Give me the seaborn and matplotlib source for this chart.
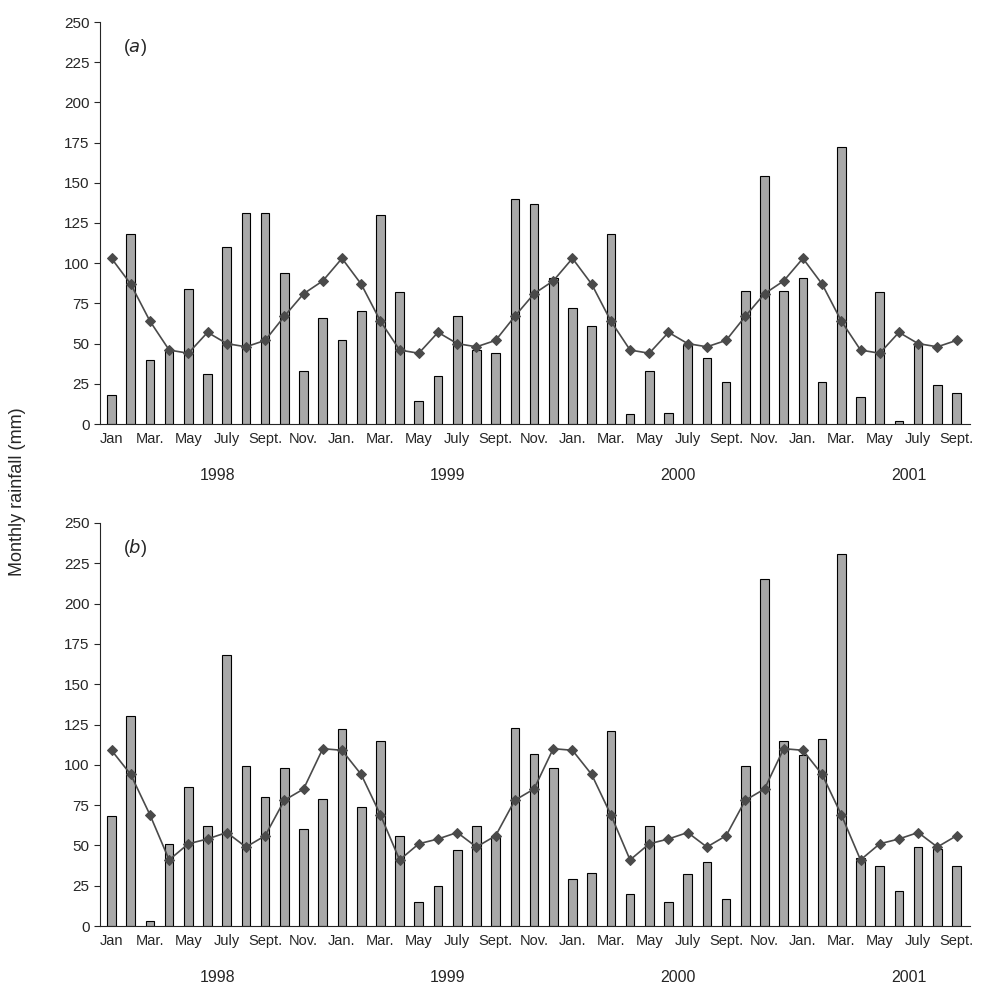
import numpy as np
import pandas as pd
import matplotlib
matplotlib.use('Agg')
import matplotlib.pyplot as plt
import seaborn as sns

# monthly rainfall Jan 1998 - Sept 2001
rain_a = [18, 118, 40, 46, 84, 31, 110, 131, 131, 94, 33, 66,
          52, 70, 130, 82, 14, 30, 67, 46, 44, 140, 137, 91,
          72, 61, 118, 6, 33, 7, 49, 41, 26, 83, 154, 83,
          91, 26, 172, 17, 82, 2, 49, 24, 19]
rain_b = [68, 130, 3, 51, 86, 62, 168, 99, 80, 98, 60, 79,
          122, 74, 115, 56, 15, 25, 47, 62, 56, 123, 107, 98,
          29, 33, 121, 20, 62, 15, 32, 40, 17, 99, 215, 115,
          106, 116, 231, 42, 37, 22, 49, 48, 37]
# long-term monthly means Jan..Dec
mean_a = [103, 87, 64, 46, 44, 57, 50, 48, 52, 67, 81, 89]
mean_b = [109, 94, 69, 41, 51, 54, 58, 49, 56, 78, 85, 110]

tick_labels = ['Jan', 'Mar.', 'May', 'July', 'Sept.', 'Nov.', 'Jan.', 'Mar.', 'May', 'July',
               'Sept.', 'Nov.', 'Jan.', 'Mar.', 'May', 'July', 'Sept.', 'Nov.', 'Jan.', 'Mar.',
               'May', 'July', 'Sept.']
years = ['1998', '1999', '2000', '2001']

sns.set_style('ticks')
plt.rcParams['font.family'] = ['Liberation Sans', 'DejaVu Sans']

fig = plt.figure(figsize=(9.88, 9.84), dpi=100)
ax_a = fig.add_axes([100 / 988, 1 - 424 / 984, 870 / 988, 402 / 984])
ax_b = fig.add_axes([100 / 988, 1 - 926 / 984, 870 / 988, 403 / 984])

n = len(rain_a)
for ax, rain, mean, tag in [(ax_a, rain_a, mean_a, 'a'), (ax_b, rain_b, mean_b, 'b')]:
    df = pd.DataFrame({'m': np.arange(n), 'rain': rain,
                       'mean': [mean[i % 12] for i in range(n)]})
    sns.barplot(data=df, x='m', y='rain', native_scale=True, width=0.45,
                color='#a8a8a8', edgecolor='black', linewidth=0.8, ax=ax, saturation=1)
    sns.lineplot(data=df, x='m', y='mean', color='#4a4a4a', marker='D', markersize=5,
                 markeredgecolor='#4a4a4a', linewidth=1.2, ax=ax)
    ax.set_xlim(-0.6, n - 0.3)
    ax.set_ylim(0, 250)
    ax.set_yticks(range(0, 251, 25))
    ax.set_xticks(range(0, n, 2))
    ax.set_xticklabels(tick_labels, fontsize=10.5)
    ax.tick_params(axis='y', labelsize=11, direction='out', length=4)
    ax.tick_params(axis='x', length=0, pad=6)
    ax.set_xlabel('')
    ax.set_ylabel('')
    sns.despine(ax=ax)
    ax.text(0.026, 0.925, r'($\it{' + tag + r'}$)', transform=ax.transAxes, fontsize=13)
    for i, yr in enumerate(years):
        ax.text(5.5 + 12 * i, -0.11, yr, transform=ax.get_xaxis_transform(),
                ha='center', va='top', fontsize=11.5)

fig.text(0.018, 0.5, 'Monthly rainfall (mm)', rotation=90, va='center', ha='center', fontsize=13)
fig.savefig('out.png', dpi=100)
